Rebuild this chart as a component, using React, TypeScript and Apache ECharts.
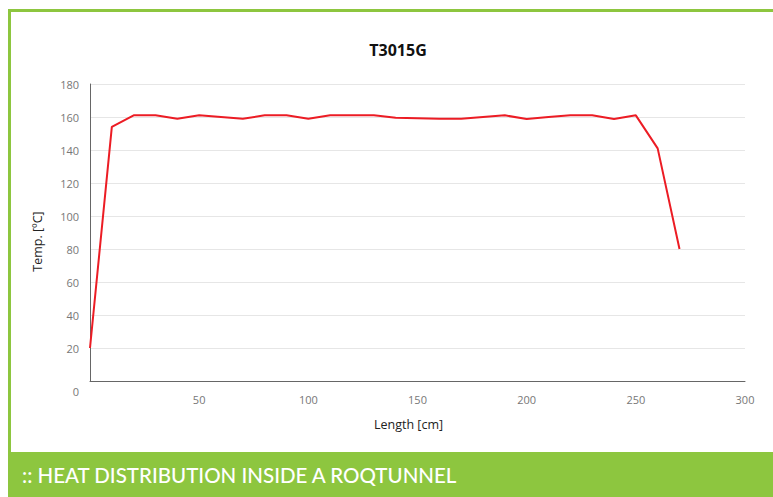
import React, { useEffect, useRef } from "react";
import * as echarts from "echarts";

const lengths = [0, 10, 20, 30, 40, 50, 60, 70, 80, 90, 100, 110, 120, 130, 140, 150, 160, 170, 180, 190, 200, 210, 220, 230, 240, 250, 260, 270];
const temps = [20, 154, 161, 161, 159, 161, 160, 159, 161, 161, 159, 161, 161, 161, 159.5, 159.3, 159, 159, 160, 161, 158.8, 160, 161, 161, 158.8, 161, 141, 80];
const title = "T3015G";
const banner = ":: HEAT DISTRIBUTION INSIDE A ROQTUNNEL";
const xName = "Length [cm]";
const yName = "Temp. [ºC]";

const GREEN = "#8dc63f";
const FONT = "'Open Sans', sans-serif";

export default function App() {
  const ref = useRef<HTMLDivElement>(null);
  useEffect(() => {
    document.body.style.margin = "0";
    const chart = echarts.init(ref.current!, null, { renderer: "svg" });
    chart.setOption({
      animation: false,
      backgroundColor: "#ffffff",
      title: {
        text: title,
        left: 393,
        top: 37,
        textAlign: "center",
        textStyle: { fontFamily: FONT, fontSize: 16, fontWeight: "bold", color: "#111" },
      },
      grid: { left: 90, right: 28, top: 84, bottom: 116 },
      xAxis: {
        type: "value",
        min: 0,
        max: 300,
        interval: 50,
        name: xName,
        nameLocation: "middle",
        nameGap: 37,
        nameTextStyle: { fontFamily: FONT, fontSize: 12.5, color: "#222", padding: [0, 18, 0, 0] },
        axisLine: { show: true, lineStyle: { color: "#666", width: 1 } },
        axisTick: { show: false },
        splitLine: { show: false },
        axisLabel: {
          margin: 13,
          fontFamily: FONT,
          fontSize: 11,
          color: "#777",
          formatter: (v: number) => (v === 0 ? "" : String(v)),
        },
      },
      yAxis: {
        type: "value",
        min: 0,
        max: 180,
        interval: 20,
        name: yName,
        nameLocation: "middle",
        nameGap: 46,
        nameRotate: 90,
        nameTextStyle: { fontFamily: FONT, fontSize: 12.5, color: "#222", padding: [0, 18, 0, 0] },
        axisLine: { show: true, lineStyle: { color: "#666", width: 1 } },
        axisTick: { show: false },
        splitLine: { show: true, lineStyle: { color: "#e6e6e6", width: 1 } },
        axisLabel: {
          margin: 11,
          fontFamily: FONT,
          fontSize: 11,
          color: "#777",
          formatter: (v: number) => (v === 0 ? "{z|0}" : String(v)),
          rich: { z: { padding: [20, 0, 0, 0], fontFamily: FONT, fontSize: 11, color: "#777" } },
        },
      },
      series: [
        {
          type: "line",
          data: lengths.map((x, i) => [x, temps[i]]),
          showSymbol: false,
          symbol: "none",
          lineStyle: { color: "#ec1c24", width: 2 },
          itemStyle: { color: "#ec1c24" },
        },
      ],
      graphic: [
        { type: "rect", shape: { x: 8, y: 9, width: 765, height: 3 }, style: { fill: GREEN }, silent: true },
        { type: "rect", shape: { x: 8, y: 9, width: 3, height: 445 }, style: { fill: GREEN }, silent: true },
        { type: "rect", shape: { x: 8, y: 452, width: 765, height: 45 }, style: { fill: GREEN }, silent: true },
        {
          type: "text",
          x: 22,
          y: 475,
          style: {
            text: banner,
            fill: "#ffffff",
            font: "500 20.5px Lato, sans-serif",
            textVerticalAlign: "middle",
            verticalAlign: "middle",
          },
          silent: true,
        },
      ],
    });
    return () => chart.dispose();
  }, []);
  return <div ref={ref} style={{ position: "absolute", left: 0, top: 0, width: 773, height: 497 }} />;
}
